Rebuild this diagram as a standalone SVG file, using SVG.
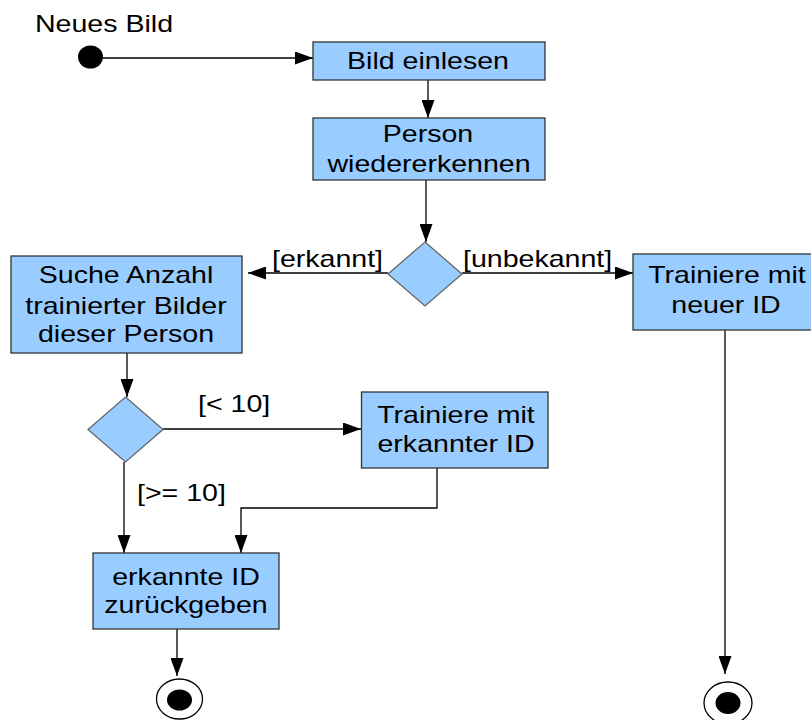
<svg xmlns="http://www.w3.org/2000/svg" width="811" height="720" viewBox="0 0 811 720">
  <style>
    text { font-family: "Liberation Sans", Arial, sans-serif; font-size: 24px; fill: #000; }
    .c { text-anchor: middle; }
    .action { fill: #99ccff; stroke: #333333; stroke-width: 1.3; }
    .decision { fill: #99ccff; stroke: #666666; stroke-width: 1.3; }
    .flow { fill: none; stroke: #000; stroke-width: 1.3; marker-end: url(#arrow); }
  </style>
  <defs>
    <marker id="arrow" markerUnits="userSpaceOnUse" markerWidth="18" markerHeight="13" refX="18" refY="6.5" orient="auto">
      <path d="M0,0 L18,6.5 L0,13 z" fill="#000"/>
    </marker>
  </defs>
  <rect width="811" height="720" fill="#fff"/>

  <g id="connectors">
    <path class="flow" d="M103,58 H313"/>
    <path class="flow" d="M428,80 V118"/>
    <path class="flow" d="M426,180 V242"/>
    <path class="flow" d="M388,273 H248"/>
    <path class="flow" d="M462,273 H633"/>
    <path class="flow" d="M127,353 V397"/>
    <path class="flow" d="M163,429 H361"/>
    <path class="flow" d="M124,462 V553"/>
    <path class="flow" d="M437,468 V508 H241 V553"/>
    <path class="flow" d="M177,629 V676"/>
    <path class="flow" d="M725,330 V674"/>
    <text transform="translate(272 267) scale(1.19 1)">[erkannt]</text>
    <text transform="translate(463 267) scale(1.19 1)">[unbekannt]</text>
    <text transform="translate(198 412) scale(1.19 1)">[&lt; 10]</text>
    <text transform="translate(137 501) scale(1.19 1)">[&gt;= 10]</text>
  </g>

  <g id="start">
    <text transform="translate(35 32) scale(1.19 1)">Neues Bild</text>
    <ellipse cx="90.5" cy="57" rx="12.5" ry="11.5" fill="#000"/>
  </g>

  <g id="bild-einlesen">
    <rect class="action" x="313" y="42" width="232" height="38"/>
    <text class="c" transform="translate(428 69) scale(1.19 1)">Bild einlesen</text>
  </g>

  <g id="person-wiedererkennen">
    <rect class="action" x="313" y="118" width="232" height="62"/>
    <text class="c" transform="translate(428 141.5) scale(1.19 1)">Person</text>
    <text class="c" transform="translate(429 171.5) scale(1.19 1)">wiedererkennen</text>
  </g>

  <g id="entscheidung-person">
    <polygon class="decision" points="425,242 462,274 425,306 388,274"/>
  </g>

  <g id="suche-anzahl">
    <rect class="action" x="11" y="256" width="231" height="97"/>
    <text class="c" transform="translate(126 283) scale(1.19 1)">Suche Anzahl</text>
    <text class="c" transform="translate(126 313.5) scale(1.19 1)">trainierter Bilder</text>
    <text class="c" transform="translate(126 342) scale(1.19 1)">dieser Person</text>
  </g>

  <g id="trainiere-neue-id">
    <rect class="action" x="633" y="254" width="190" height="76"/>
    <text class="c" transform="translate(727 283) scale(1.19 1)">Trainiere mit</text>
    <text class="c" transform="translate(726 312.5) scale(1.19 1)">neuer ID</text>
  </g>

  <g id="entscheidung-anzahl">
    <polygon class="decision" points="125.5,397 163,429.5 125.5,462 88,429.5"/>
  </g>

  <g id="trainiere-erkannte-id">
    <rect class="action" x="361.5" y="392" width="186.5" height="76"/>
    <text class="c" transform="translate(456 423) scale(1.19 1)">Trainiere mit</text>
    <text class="c" transform="translate(456 451.5) scale(1.19 1)">erkannter ID</text>
  </g>

  <g id="erkannte-id-zurueckgeben">
    <rect class="action" x="93" y="553" width="186" height="76"/>
    <text class="c" transform="translate(186 585) scale(1.19 1)">erkannte ID</text>
    <text class="c" transform="translate(186 613) scale(1.19 1)">zurückgeben</text>
  </g>

  <g id="ende-links">
    <ellipse cx="179.5" cy="699" rx="23" ry="20" fill="#fff" stroke="#000" stroke-width="1.3"/>
    <ellipse cx="179.5" cy="700" rx="12.5" ry="10.5" fill="#000"/>
  </g>

  <g id="ende-rechts">
    <ellipse cx="728" cy="703" rx="24" ry="21" fill="#fff" stroke="#000" stroke-width="1.3"/>
    <ellipse cx="728" cy="703" rx="12.5" ry="11" fill="#000"/>
  </g>
</svg>
